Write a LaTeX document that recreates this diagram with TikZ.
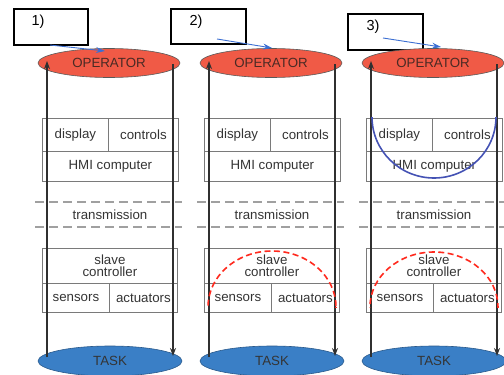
\documentclass[tikz,border=0pt]{standalone}
\usepackage{fontspec}
\setmainfont{Liberation Sans}
\usetikzlibrary{arrows.meta,shapes.geometric}
\definecolor{opfill}{HTML}{F05A46}
\definecolor{optext}{HTML}{4A2A24}
\definecolor{taskfill}{HTML}{3A7FC6}
\definecolor{txt}{HTML}{343434}
\definecolor{cellline}{HTML}{7A7A7A}
\definecolor{vline}{HTML}{303030}
\definecolor{dashgray}{HTML}{A0A0A0}
\definecolor{redarc}{HTML}{FF2A1E}
\definecolor{bluearc}{HTML}{4452B4}
\definecolor{bluearrow}{HTML}{3C6FD2}
\begin{document}
\begin{tikzpicture}[x=1pt,y=-1pt,
  font=\fontsize{13.3}{14}\selectfont,
  labelbox/.style={draw=black,line width=1.8pt,fill=white,rectangle,inner sep=0pt},
  labeltext/.style={text=black,font=\fontsize{14.5}{15}\selectfont},
  opell/.style={ellipse,draw=vline!80,line width=0.6pt,fill=opfill,minimum width=142pt,minimum height=29pt,inner sep=0pt,text=optext},
  taskell/.style={ellipse,draw=taskfill!70!black,line width=0.6pt,fill=taskfill,minimum width=144pt,minimum height=30pt,inner sep=0pt,text=txt},
  cell/.style={rectangle,draw=cellline,line width=0.8pt,inner sep=0pt,text=txt,align=center,anchor=north west},
  sep/.style={draw=dashgray,line width=1.8pt,dash pattern=on 9pt off 5pt},
  link/.style={draw=vline,line width=1.4pt},
  tip/.style={-{Stealth[length=8pt,width=6pt]}},
  bluelink/.style={draw=bluearrow,line width=0.9pt,-{Stealth[length=9pt,width=6pt]}},
  redloop/.style={draw=redarc,line width=1.6pt,dash pattern=on 6pt off 3.5pt},
  blueloop/.style={draw=bluearc,line width=1.6pt}
]
\useasboundingbox (0,0) rectangle (504,375);

% label boxes
\node[labelbox,minimum width=74pt,minimum height=36pt,anchor=north west] (lb1) at (13,8) {};
\node[labelbox,minimum width=75pt,minimum height=35pt,anchor=north west] (lb2) at (170,8) {};
\node[labelbox,minimum width=75pt,minimum height=36pt,anchor=north west] (lb3) at (347,13) {};
\node[labeltext] (t1) at (38,21.5) {1)};
\node[labeltext] (t2) at (196,21.5) {2)};
\node[labeltext] (t3) at (373,26.5) {3)};

\foreach \i/\o in {1/0,2/162,3/324}{
  % operator and task
  \node[opell] (op\i) at (109+\o,63) {OPERATOR};
  \node[taskell] (task\i) at (110+\o,361) {TASK};
  % HMI block
  \node[cell,minimum width=66pt,minimum height=33pt] (disp\i) at (42+\o,118) {display};
  \node[cell,minimum width=70pt,minimum height=33pt] (ctrl\i) at (108+\o,118) {controls};
  \node[cell,minimum width=136pt,minimum height=30pt] (hmi\i) at (42+\o,151) {HMI computer};
  % transmission
  \coordinate (sa\i) at (35+\o,202);
  \coordinate (sb\i) at (182+\o,202);
  \coordinate (sc\i) at (35+\o,227);
  \coordinate (sd\i) at (182+\o,227);
  \draw[sep] (sa\i) -- (sb\i);
  \draw[sep] (sc\i) -- (sd\i);
  \node[text=txt] (tr\i) at (110+\o,214.5) {transmission};
  % slave block
  \node[cell,minimum width=135pt,minimum height=35pt,font=\fontsize{13.3}{12.5}\selectfont] (slv\i) at (42+\o,248) {slave\\controller};
  \node[cell,minimum width=67pt,minimum height=29pt] (sen\i) at (42+\o,283) {sensors};
  \node[cell,minimum width=68pt,minimum height=29pt] (act\i) at (109+\o,283) {actuators};
  % vertical links
  \coordinate (la\i) at (47+\o,357);
  \coordinate (lb\i) at (47+\o,61);
  \coordinate (ra\i) at (173+\o,64);
  \coordinate (rb\i) at (173+\o,356);
  \draw[link,tip] (la\i) -- (lb\i);
  \draw[link,tip] (ra\i) -- (rb\i);
}

% blue arrows from label boxes
\coordinate (ba1) at (50,45);  \coordinate (bb1) at (105,51);
\coordinate (ba2) at (217,39); \coordinate (bb2) at (272,48);
\coordinate (ba3) at (383,38); \coordinate (bb3) at (441,47);
\foreach \i in {1,2,3}{ \draw[bluelink] (ba\i) -- (bb\i); }

% red dashed loops
\begin{scope}
  \clip (190,230) rectangle (350,307.5);
  \draw[redloop] (272,307) ellipse [x radius=64, y radius=56];
\end{scope}
\begin{scope}
  \clip (352,230) rectangle (504,307.5);
  \draw[redloop] (434,307) ellipse [x radius=64, y radius=55];
\end{scope}
% blue loop
\begin{scope}
  \clip (352,117) rectangle (504,200);
  \draw[blueloop] (434,117) ellipse [x radius=62, y radius=61];
\end{scope}
\end{tikzpicture}
\end{document}
